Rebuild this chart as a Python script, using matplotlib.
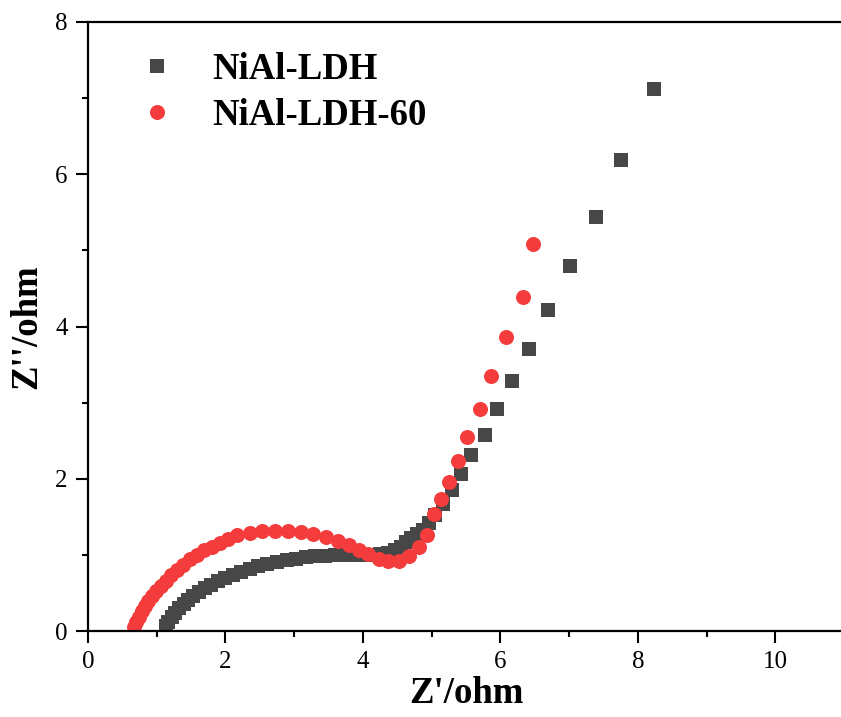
import matplotlib
matplotlib.use("Agg")
import matplotlib.pyplot as plt
from matplotlib.ticker import MultipleLocator

# NiAl-LDH (Z', Z'')
ldh_x = [1.13, 1.17, 1.22, 1.27, 1.33, 1.39, 1.46, 1.53, 1.61, 1.70, 1.79, 1.89,
         2.00, 2.11, 2.23, 2.35, 2.48, 2.61, 2.75, 2.89, 3.03, 3.17, 3.31, 3.45,
         3.59, 3.73, 3.87, 4.00, 4.13, 4.25, 4.36, 4.46, 4.55, 4.62, 4.70, 4.79,
         4.87, 4.96, 5.05, 5.17, 5.29, 5.42, 5.58, 5.77, 5.95, 6.17, 6.41, 6.70,
         7.01, 7.39, 7.76, 8.23]
ldh_y = [0.06, 0.12, 0.18, 0.24, 0.30, 0.36, 0.41, 0.46, 0.51, 0.56, 0.61, 0.66,
         0.70, 0.74, 0.78, 0.82, 0.85, 0.88, 0.91, 0.93, 0.95, 0.97, 0.98, 0.99,
         1.00, 1.00, 1.00, 1.00, 1.00, 1.01, 1.03, 1.06, 1.11, 1.17, 1.22, 1.27,
         1.33, 1.42, 1.52, 1.67, 1.85, 2.06, 2.31, 2.58, 2.91, 3.29, 3.71, 4.22,
         4.80, 5.44, 6.19, 7.12]

# NiAl-LDH-60
ldh60_x = [0.67, 0.70, 0.74, 0.78, 0.83, 0.88, 0.93, 0.99, 1.06, 1.13, 1.21, 1.29,
           1.38, 1.48, 1.58, 1.69, 1.80, 1.92, 2.04, 2.17, 2.35, 2.53, 2.72, 2.91,
           3.10, 3.28, 3.46, 3.64, 3.80, 3.94, 4.08, 4.23, 4.37, 4.52, 4.67, 4.81,
           4.93, 5.04, 5.14, 5.25, 5.38, 5.52, 5.70, 5.86, 6.08, 6.33, 6.48]
ldh60_y = [0.05, 0.12, 0.19, 0.26, 0.33, 0.40, 0.46, 0.52, 0.59, 0.66, 0.73, 0.80,
           0.87, 0.94, 1.00, 1.06, 1.11, 1.16, 1.21, 1.26, 1.29, 1.31, 1.32, 1.31,
           1.30, 1.27, 1.23, 1.18, 1.13, 1.06, 1.01, 0.95, 0.92, 0.92, 0.98, 1.11,
           1.26, 1.54, 1.73, 1.96, 2.23, 2.55, 2.91, 3.35, 3.86, 4.39, 5.09]

plt.rcParams['font.family'] = ['Liberation Serif', 'DejaVu Serif']

fig = plt.figure(figsize=(8.41, 7.17), dpi=100)
# right spine sits just past the image edge, as in the original
ax = fig.add_axes([88/841, 86/717, 756/841, 609/717])

ax.plot(ldh_x, ldh_y, 's', color='#474747', markersize=9.4, markeredgewidth=0,
        label='NiAl-LDH')
ax.plot(ldh60_x, ldh60_y, 'o', color='#F53C3C', markersize=10.8, markeredgewidth=0,
        label='NiAl-LDH-60')

ax.set_xlim(0, 11)
ax.set_ylim(0, 8)
ax.xaxis.set_major_locator(MultipleLocator(2))
ax.xaxis.set_minor_locator(MultipleLocator(1))
ax.yaxis.set_major_locator(MultipleLocator(2))
ax.yaxis.set_minor_locator(MultipleLocator(1))
ax.tick_params(which='major', direction='out', length=8.5, width=1.5, labelsize=18, pad=6)
ax.tick_params(which='minor', direction='out', length=4.3, width=1.5)
for s in ax.spines.values():
    s.set_linewidth(1.6)

ax.set_xlabel("Z'/ohm", fontsize=26.5, fontweight='bold', labelpad=2)
ax.set_ylabel("Z''/ohm", fontsize=26.5, fontweight='bold', labelpad=8)

ax.legend(loc='upper left', bbox_to_anchor=(0.067, 0.951), frameon=False,
          prop={'size': 26.5, 'weight': 'bold'}, borderpad=0, borderaxespad=0,
          handlelength=1.0, handletextpad=1.0, labelspacing=0.3, numpoints=1)

plt.savefig("out.png", dpi=100)
